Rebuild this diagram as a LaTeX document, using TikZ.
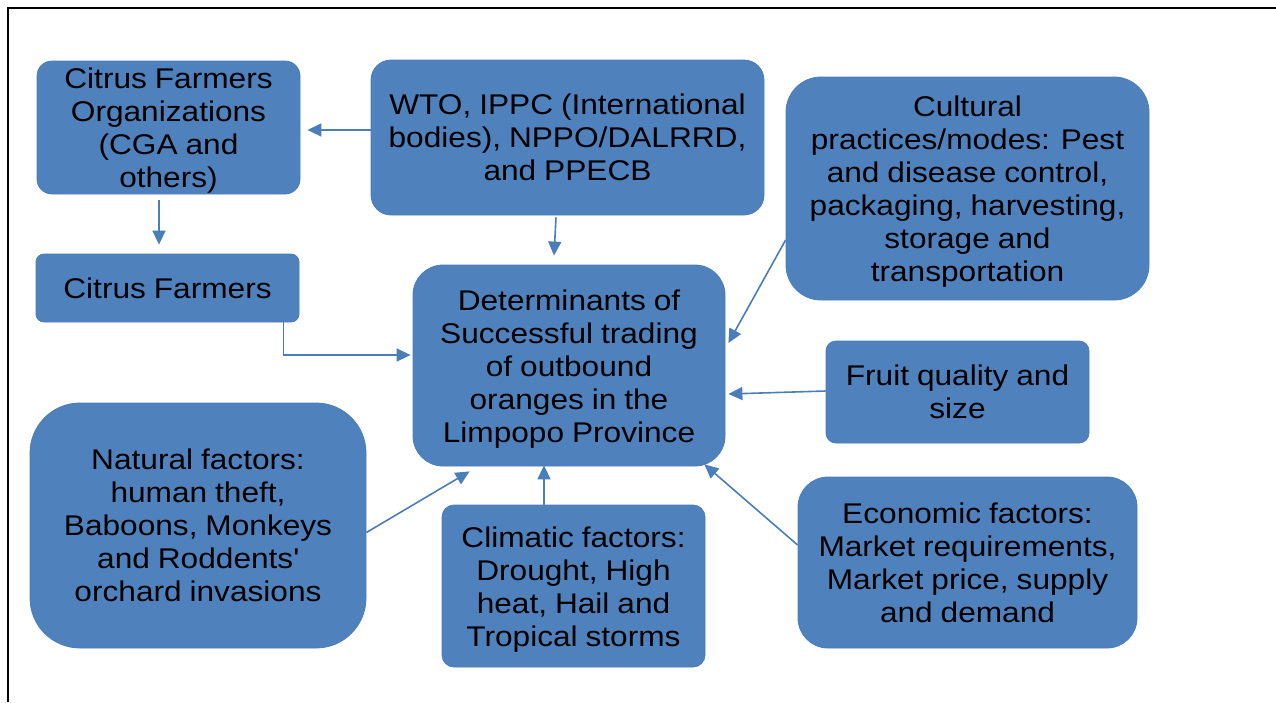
\documentclass[tikz,border=0pt]{standalone}
\usepackage{fontspec}
\setmainfont{Liberation Sans}[FakeStretch=1.11,WordSpace=0.9]
\usetikzlibrary{arrows.meta,calc}
\definecolor{boxfill}{HTML}{4F81BD}
\definecolor{boxline}{HTML}{4A7EBB}
\definecolor{arrcol}{HTML}{4A7EBB}
\newcommand{\lowerstrut}{\rule{0pt}{27pt}}
\tikzset{
  box/.style={draw=boxline, fill=boxfill, line width=0.8pt, text=black, align=center,
    inner sep=0pt, font=\fontsize{28.5}{33}\selectfont},
  arr/.style={draw=arrcol, line width=1.6pt, -{Triangle[length=14pt,width=13pt]}},
  frameline/.style={draw=black, line width=2pt}
}
\begin{document}
\begin{tikzpicture}[x=1pt,y=-1pt]
\useasboundingbox (0,0) rectangle (1276,702);
\draw[frameline] (8,702) -- (8,8) -- (1276,8);
% boxes
\node[box, rounded corners=15pt, minimum width=263pt, minimum height=133pt] (org) at (168.5,127.5)
  {\lowerstrut Citrus Farmers\\Organizations\\(CGA and\\others)};
\node[box, rounded corners=20pt, minimum width=393pt, minimum height=155pt] (wto) at (567.5,137.5)
  {WTO, IPPC (International\\bodies), NPPO/DALRRD,\\and PPECB};
\node[box, rounded corners=35pt, minimum width=363pt, minimum height=223pt] (cult) at (967.5,188.5)
  {\lowerstrut Cultural\\practices/modes: Pest\\and disease control,\\packaging, harvesting,\\storage and\\transportation};
\node[box, rounded corners=8pt, minimum width=263pt, minimum height=68pt] (farm) at (167.5,288)
  {Citrus Farmers};
\node[box, rounded corners=30pt, minimum width=312pt, minimum height=201pt] (det) at (569,365.5)
  {\lowerstrut Determinants of\\Successful trading\\of outbound\\oranges in the\\Limpopo Province};
\node[box, rounded corners=10pt, minimum width=263pt, minimum height=102pt] (fruit) at (957.5,392)
  {Fruit quality and\\size};
\node[box, rounded corners=50pt, minimum width=336pt, minimum height=245pt] (nat) at (198,525.5)
  {Natural factors:\\human theft,\\Baboons, Monkeys\\and Roddents\textquotesingle\\orchard invasions};
\node[box, rounded corners=12pt, minimum width=263pt, minimum height=162pt] (clim) at (573.5,586)
  {\lowerstrut Climatic factors:\\Drought, High\\heat, Hail and\\Tropical storms};
\node[box, rounded corners=30pt, minimum width=339pt, minimum height=171pt] (econ) at (967.5,562.5)
  {Economic factors:\\Market requirements,\\Market price, supply\\and demand};
% connectors
\draw[arr] ($(wto.west)+(0,-7.5)$) -- ($(org.east)+(7,2.5)$);
\draw[arr] ($(org.south)+(-9.5,6)$) -- ($(farm.north)+(-8.5,-9)$);
\draw[arr] ($(wto.south)+(-11.5,2)$) -- ($(det.north)+(-15,-9)$);
\draw[arr] ($(farm.south east)+(-16,0)$) |- ($(det.west)+(-2,-10.5)$);
\draw[arr] ($(cult.west)+(0,51.5)$) -- ($(det.east)+(3,-22.5)$);
\draw[arr] ($(fruit.west)+(0,-1)$) -- ($(det.east)+(3,28.5)$);
\draw[arr] ($(nat.east)+(0,7)$) -- ($(det.south west)+(57,5)$);
\draw[arr] ($(clim.north)+(-29.5,0)$) -- ($(det.south)+(-25,-1)$);
\draw[arr] ($(econ.west)+(0,-17.5)$) -- ($(det.south east)+(-21,-2)$);
\end{tikzpicture}
\end{document}
